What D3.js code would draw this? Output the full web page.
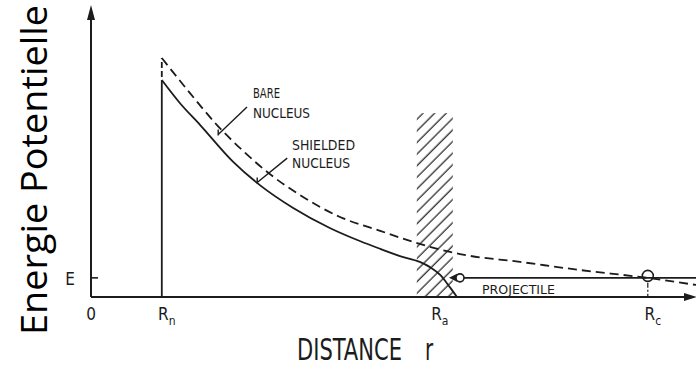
<!DOCTYPE html>
<html><head><meta charset="utf-8">
<script src="https://cdn.jsdelivr.net/npm/d3@7"></script>
<style>
body{margin:0;background:#fff}
text{fill:#1c1c1c}
.tech{font-family:"DejaVu Sans Condensed","DejaVu Sans",sans-serif;font-stretch:condensed}
</style>
</head><body><svg id="chart" width="696" height="367"></svg>
<script>
// Distance r and potential energy V, arbitrary units
const shieldedR = [1.18, 1.48, 1.82, 2.37, 2.82, 3.37, 3.98, 4.48, 4.82, 5.15, 5.48, 5.65, 5.82, 5.98, 6.10];
const shieldedV = [7.48, 6.69, 5.93, 4.66, 3.85, 3.07, 2.38, 1.93, 1.66, 1.41, 1.21, 1.03, 0.76, 0.34, 0.00];
const bareR = [1.18, 1.65, 2.10, 2.57, 2.98, 3.48, 4.15, 4.82, 5.48, 6.15, 7.15, 8.15, 9.27, 10.10];
const bareV = [8.24, 7.03, 5.93, 4.97, 4.24, 3.52, 2.76, 2.28, 1.83, 1.48, 1.21, 0.93, 0.66, 0.41];
const tickNames = ["0", "R", "R", "R"];
const tickSubs = ["", "n", "a", "c"];
const tickR = [0, 1.18, 5.73, 9.28];
const energyE = 0.66;
const shellR = [5.43, 6.03];   // screened region around R_a
const shellTop = 6.34;
const projectileR = 6.15;      // incoming projectile position on the E line
const turningR = 9.28;         // classical turning point R_c
const rMax = 10.1, vMax = 10.07;

const svg = d3.select("#chart");
const ink = "#1c1c1c";

const x = d3.scaleLinear().domain([0, 10]).range([91, 691]);
const y = d3.scaleLinear().domain([0, 10]).range([297, 7]);

// hatch pattern for the screened shell
const defs = svg.append("defs");
defs.append("pattern")
  .attr("id", "hatch").attr("patternUnits", "userSpaceOnUse")
  .attr("width", 8.2).attr("height", 8.2)
  .attr("patternTransform", "rotate(45)")
  .append("line").attr("x1", 2).attr("y1", 0).attr("x2", 2).attr("y2", 8.2)
  .attr("stroke", ink).attr("stroke-width", 1.2);

svg.append("rect")
  .attr("x", x(shellR[0])).attr("y", y(shellTop))
  .attr("width", x(shellR[1]) - x(shellR[0]))
  .attr("height", y(0) - y(shellTop))
  .attr("fill", "url(#hatch)");

// axes
svg.append("line").attr("x1", x(0)).attr("y1", y(0)).attr("x2", x(0)).attr("y2", y(vMax) + 14)
  .attr("stroke", ink).attr("stroke-width", 2);
svg.append("path")
  .attr("d", `M${x(0) - 4},${y(vMax) + 15} L${x(0) + 4},${y(vMax) + 15} L${x(0)},${y(vMax)} Z`)
  .attr("fill", ink);
svg.append("line").attr("x1", x(0)).attr("y1", y(0)).attr("x2", x(rMax) - 12).attr("y2", y(0))
  .attr("stroke", ink).attr("stroke-width", 2);
svg.append("path")
  .attr("d", `M${x(rMax) - 13},${y(0) - 4} L${x(rMax) - 13},${y(0) + 4} L${x(rMax)},${y(0)} Z`)
  .attr("fill", ink);

// energy tick
svg.append("line").attr("x1", x(0)).attr("x2", x(0) + 7).attr("y1", y(energyE)).attr("y2", y(energyE))
  .attr("stroke", ink).attr("stroke-width", 1.6);
svg.append("text").attr("class", "tech").attr("x", x(0) - 21).attr("y", y(energyE) + 7)
  .attr("text-anchor", "middle").attr("font-size", 17).text("E");

// distance tick labels
tickR.forEach((r, i) => {
  const t = svg.append("text").attr("class", "tech")
    .attr("x", x(r) + (i === 0 ? 0 : 5)).attr("y", 320)
    .attr("text-anchor", "middle").attr("font-size", 17);
  t.append("tspan").text(tickNames[i]);
  if (tickSubs[i]) t.append("tspan").attr("dy", 5).attr("font-size", 12).text(tickSubs[i]);
});

// vertical wall at R_n
svg.append("line").attr("x1", x(shieldedR[0])).attr("x2", x(shieldedR[0]))
  .attr("y1", y(0)).attr("y2", y(shieldedV[0]))
  .attr("stroke", ink).attr("stroke-width", 1.8);

const line = d3.line().x(d => x(d[0])).y(d => y(d[1])).curve(d3.curveMonotoneX);

// shielded nucleus potential
svg.append("path").datum(d3.zip(shieldedR, shieldedV))
  .attr("d", line).attr("fill", "none").attr("stroke", ink).attr("stroke-width", 1.8);

// bare nucleus potential (dashed, continuing the wall above the shielded curve)
svg.append("line").attr("x1", x(bareR[0])).attr("x2", x(bareR[0]))
  .attr("y1", y(shieldedV[0]) - 3).attr("y2", y(bareV[0]))
  .attr("stroke", ink).attr("stroke-width", 1.8).attr("stroke-dasharray", "6,3");
svg.append("path").datum(d3.zip(bareR, bareV))
  .attr("d", line).attr("fill", "none").attr("stroke", ink).attr("stroke-width", 1.8)
  .attr("stroke-dasharray", "9,5");

// projectile energy line with arrow and particle
const py = y(energyE);
svg.append("line").attr("x1", x(projectileR) + 4).attr("x2", x(rMax)).attr("y1", py).attr("y2", py)
  .attr("stroke", ink).attr("stroke-width", 1.8);
svg.append("path")
  .attr("d", `M${x(projectileR) - 11},${py} L${x(projectileR) - 3},${py - 4} L${x(projectileR) - 3},${py + 4} Z`)
  .attr("fill", ink);
svg.append("circle").attr("cx", x(projectileR)).attr("cy", py).attr("r", 4)
  .attr("fill", "#fff").attr("stroke", ink).attr("stroke-width", 1.6);
svg.append("text").attr("class", "tech").attr("x", 482).attr("y", 294)
  .attr("font-size", 13).attr("textLength", 73).attr("lengthAdjust", "spacingAndGlyphs")
  .text("PROJECTILE");

// turning point R_c
svg.append("line").attr("x1", x(turningR)).attr("x2", x(turningR)).attr("y1", py + 5).attr("y2", y(0))
  .attr("stroke", ink).attr("stroke-width", 1.2).attr("stroke-dasharray", "5,2,2,2");
svg.append("circle").attr("cx", x(turningR)).attr("cy", py - 2).attr("r", 5.5)
  .attr("fill", "none").attr("stroke", ink).attr("stroke-width", 1.6);

// curve annotations with leader lines
function leader(r0, v0, r1, v1) {
  svg.append("line").attr("x1", x(r0)).attr("y1", y(v0)).attr("x2", x(r1)).attr("y2", y(v1))
    .attr("stroke", ink).attr("stroke-width", 1.4);
  svg.append("line").attr("x1", x(r1)).attr("y1", y(v1) - 5).attr("x2", x(r1)).attr("y2", y(v1) + 1)
    .attr("stroke", ink).attr("stroke-width", 1.4);
}
leader(2.60, 6.55, 2.12, 5.60);
leader(3.27, 4.79, 2.77, 3.95);

function label(txt, px, py, len) {
  svg.append("text").attr("class", "tech").attr("x", px).attr("y", py)
    .attr("font-size", 14).attr("textLength", len).attr("lengthAdjust", "spacingAndGlyphs").text(txt);
}
label("BARE", 253, 98, 27);
label("NUCLEUS", 253, 118, 57);
label("SHIELDED", 292, 150, 63);
label("NUCLEUS", 292, 168, 58);

// axis titles (tall narrow lettering: condensed face stretched vertically)
svg.append("text").attr("class", "tech")
  .attr("transform", "translate(297,360) scale(1,1.4)")
  .attr("font-size", 22).attr("textLength", 105).attr("lengthAdjust", "spacingAndGlyphs")
  .text("DISTANCE");
svg.append("text").attr("class", "tech")
  .attr("transform", "translate(425,360) scale(1,1.4)")
  .attr("font-size", 22).text("r");

svg.append("text")
  .attr("transform", "translate(47,335) rotate(-90)")
  .attr("font-family", "'Open Sans', 'Noto Sans', sans-serif")
  .attr("font-size", 36).attr("textLength", 330).attr("lengthAdjust", "spacingAndGlyphs")
  .style("fill", "#000")
  .text("Energie Potentielle");
</script>
</body></html>
